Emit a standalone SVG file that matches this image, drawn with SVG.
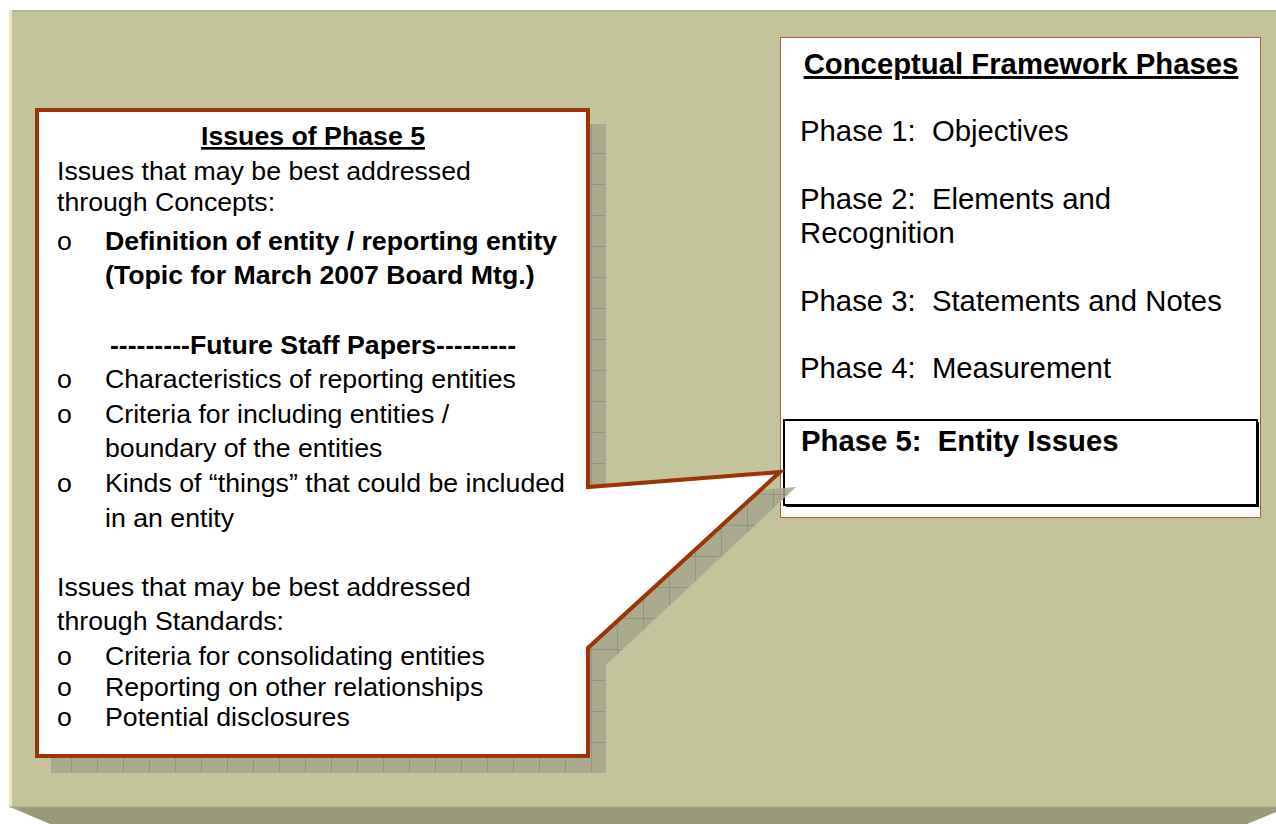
<svg xmlns="http://www.w3.org/2000/svg" width="1276" height="824" viewBox="0 0 1276 824">
<defs>
<style>
.t{font-family:"Liberation Sans",Arial,sans-serif;font-size:26.7px;fill:#000;white-space:pre}
.r{font-family:"Liberation Sans",Arial,sans-serif;font-size:29.3px;fill:#000;white-space:pre}
.b{font-weight:bold}
.u{text-decoration:underline}
</style>
<pattern id="grid" width="26" height="31" patternUnits="userSpaceOnUse" x="45" y="122">
<rect width="26" height="31" fill="#a5a58d"/>
<path d="M0 0.5H26M0.5 0V31" stroke="#8c8c80" stroke-width="1" fill="none"/>
</pattern>
</defs>
<g id="background">
<rect x="10" y="10" width="1266" height="798" fill="#c3c49c"/>
<rect x="10" y="10" width="1266" height="2" fill="#b5b696"/>
<rect x="9" y="10" width="3" height="797" fill="#e8e8ba"/>
<polygon points="10,807 1276,807 1276,812 1247,824 50,824" fill="#9a9a7b"/>
<rect x="10" y="806" width="1266" height="1.5" fill="#b2b392"/>
</g>
<g id="phases-box">
<rect x="780.5" y="37.5" width="480" height="480" fill="#fff" stroke="#b0603a" stroke-width="1"/>
<text class="r b u" x="1021" y="74" text-anchor="middle">Conceptual Framework Phases</text>
<text class="r" x="800" y="141">Phase 1:  Objectives</text>
<text class="r" x="800" y="209">Phase 2:  Elements and</text>
<text class="r" x="800" y="243">Recognition</text>
<text class="r" x="800" y="311">Phase 3:  Statements and Notes</text>
<text class="r" x="800" y="378">Phase 4:  Measurement</text>
</g>
<g id="phase5-box">
<rect x="786" y="422" width="473" height="85" fill="#000"/>
<rect x="784" y="420" width="473" height="85" fill="#fff" stroke="#000" stroke-width="2"/>
<text class="r b" x="801" y="451">Phase 5:  Entity Issues</text>
</g>
<g id="connectors">
<polygon id="callout-shadow" points="51,124 606,124 606,502 796,487 606,665 606,773 51,773" fill="url(#grid)" opacity="0.85"/>
</g>
<g id="issues-callout">
<polygon points="37,110 588,110 588,487 780,472 588,648 588,756 37,756" fill="#fff" stroke="#9c3409" stroke-width="4" stroke-linejoin="miter"/>
<text class="t b u" x="313" y="145" text-anchor="middle">Issues of Phase 5</text>
<text class="t" x="57" y="180">Issues that may be best addressed</text>
<text class="t" x="57" y="211">through Concepts:</text>
<text class="t" x="57" y="250">o</text>
<text class="t b" x="105" y="250">Definition of entity / reporting entity</text>
<text class="t b" x="105" y="284">(Topic for March 2007 Board Mtg.)</text>
<text class="t b" x="313" y="354" text-anchor="middle">---------Future Staff Papers---------</text>
<text class="t" x="57" y="388">o</text>
<text class="t" x="105" y="388">Characteristics of reporting entities</text>
<text class="t" x="57" y="423">o</text>
<text class="t" x="105" y="423">Criteria for including entities /</text>
<text class="t" x="105" y="457">boundary of the entities</text>
<text class="t" x="57" y="492">o</text>
<text class="t" x="105" y="492">Kinds of “things” that could be included</text>
<text class="t" x="105" y="527">in an entity</text>
<text class="t" x="57" y="596">Issues that may be best addressed</text>
<text class="t" x="57" y="630">through Standards:</text>
<text class="t" x="57" y="665">o</text>
<text class="t" x="105" y="665">Criteria for consolidating entities</text>
<text class="t" x="57" y="696">o</text>
<text class="t" x="105" y="696">Reporting on other relationships</text>
<text class="t" x="57" y="726">o</text>
<text class="t" x="105" y="726">Potential disclosures</text>
</g>
</svg>
